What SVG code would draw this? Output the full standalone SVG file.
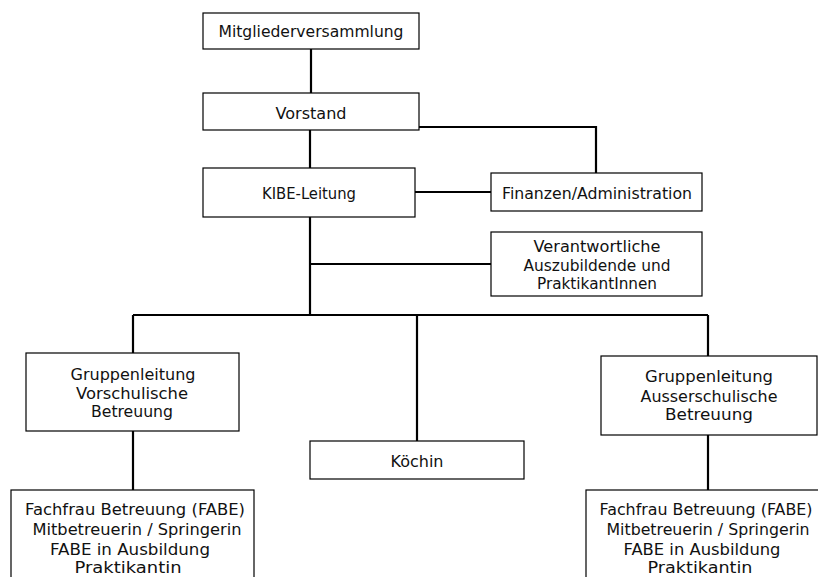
<svg xmlns="http://www.w3.org/2000/svg" width="818" height="577" viewBox="0 0 818 577">
<style>
.box{fill:#fff;stroke:#000;stroke-width:1.2}
.con{fill:none;stroke:#000;stroke-width:2.2}
text{font-family:"DejaVu Sans","Liberation Sans",sans-serif;font-size:16px;fill:#111;text-anchor:middle}
</style>
<rect width="818" height="577" fill="#fff"/>
<g id="connectors">
<path class="con" d="M311,49V93"/>
<path class="con" d="M419,127H596V173"/>
<path class="con" d="M310,130V168"/>
<path class="con" d="M415,192H491"/>
<path class="con" d="M310,217V315"/>
<path class="con" d="M310,264H491"/>
<path class="con" d="M133,315H708"/>
<path class="con" d="M133,315V353"/>
<path class="con" d="M417,315V441"/>
<path class="con" d="M708,315V356"/>
<path class="con" d="M133,431V490"/>
<path class="con" d="M708,435V490"/>
</g>
<g id="mitglieder">
<rect class="box" x="203" y="13" width="216" height="36"/>
<text x="311" y="37" textLength="185" lengthAdjust="spacingAndGlyphs">Mitgliederversammlung</text>
</g>
<g id="vorstand">
<rect class="box" x="203" y="93" width="216" height="37"/>
<text x="311" y="119" textLength="71" lengthAdjust="spacingAndGlyphs">Vorstand</text>
</g>
<g id="kibe">
<rect class="box" x="203" y="168" width="212" height="49"/>
<text x="309" y="199" textLength="94" lengthAdjust="spacingAndGlyphs">KIBE-Leitung</text>
</g>
<g id="finanzen">
<rect class="box" x="491" y="173" width="211" height="38"/>
<text x="597" y="199" textLength="190" lengthAdjust="spacingAndGlyphs">Finanzen/Administration</text>
</g>
<g id="verantwortliche">
<rect class="box" x="491" y="232" width="211" height="64"/>
<text x="597" y="252" textLength="127" lengthAdjust="spacingAndGlyphs">Verantwortliche</text>
<text x="597" y="271" textLength="147" lengthAdjust="spacingAndGlyphs">Auszubildende und</text>
<text x="597" y="289" textLength="120" lengthAdjust="spacingAndGlyphs">PraktikantInnen</text>
</g>
<g id="gruppe-vorschul">
<rect class="box" x="26" y="353" width="213" height="78"/>
<text x="133" y="380" textLength="125" lengthAdjust="spacingAndGlyphs">Gruppenleitung</text>
<text x="132" y="399" textLength="112" lengthAdjust="spacingAndGlyphs">Vorschulische</text>
<text x="132" y="417" textLength="82" lengthAdjust="spacingAndGlyphs">Betreuung</text>
</g>
<g id="koechin">
<rect class="box" x="310" y="441" width="214" height="38"/>
<text x="417" y="467" textLength="53" lengthAdjust="spacingAndGlyphs">Köchin</text>
</g>
<g id="gruppe-ausserschul">
<rect class="box" x="601" y="356" width="216" height="79"/>
<text x="709" y="382" textLength="128" lengthAdjust="spacingAndGlyphs">Gruppenleitung</text>
<text x="709" y="402" textLength="137" lengthAdjust="spacingAndGlyphs">Ausserschulische</text>
<text x="709" y="420" textLength="88" lengthAdjust="spacingAndGlyphs">Betreuung</text>
</g>
<g id="team-links">
<rect class="box" x="11" y="490" width="243" height="100"/>
<text x="135" y="515" textLength="220" lengthAdjust="spacingAndGlyphs">Fachfrau Betreuung (FABE)</text>
<text x="137" y="535" textLength="209" lengthAdjust="spacingAndGlyphs">Mitbetreuerin / Springerin</text>
<text x="130" y="555" textLength="160" lengthAdjust="spacingAndGlyphs">FABE in Ausbildung</text>
<text x="128" y="573" textLength="107" lengthAdjust="spacingAndGlyphs">Praktikantin</text>
</g>
<g id="team-rechts">
<rect class="box" x="586" y="490" width="245" height="100"/>
<text x="706" y="515" textLength="213" lengthAdjust="spacingAndGlyphs">Fachfrau Betreuung (FABE)</text>
<text x="708" y="535" textLength="203" lengthAdjust="spacingAndGlyphs">Mitbetreuerin / Springerin</text>
<text x="702" y="555" textLength="157" lengthAdjust="spacingAndGlyphs">FABE in Ausbildung</text>
<text x="700" y="573" textLength="105" lengthAdjust="spacingAndGlyphs">Praktikantin</text>
</g>
</svg>
